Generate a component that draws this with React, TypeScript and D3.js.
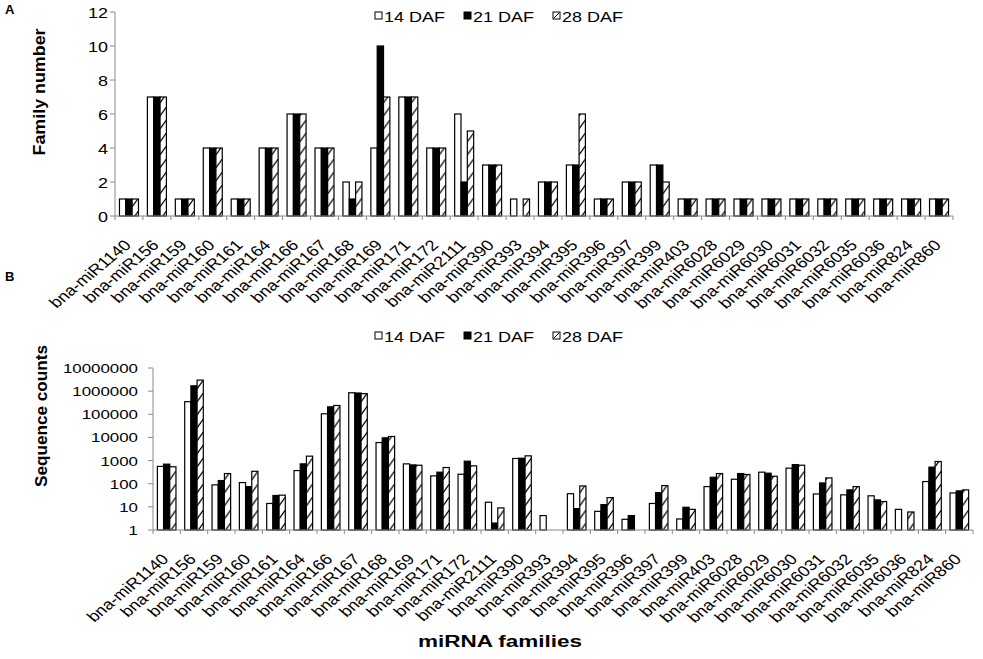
import * as d3 from "d3";

// miRNA families, same order in both panels
const families = [
  "bna-miR1140", "bna-miR156", "bna-miR159", "bna-miR160", "bna-miR161", "bna-miR164",
  "bna-miR166", "bna-miR167", "bna-miR168", "bna-miR169", "bna-miR171", "bna-miR172",
  "bna-miR2111", "bna-miR390", "bna-miR393", "bna-miR394", "bna-miR395", "bna-miR396",
  "bna-miR397", "bna-miR399", "bna-miR403", "bna-miR6028", "bna-miR6029", "bna-miR6030",
  "bna-miR6031", "bna-miR6032", "bna-miR6035", "bna-miR6036", "bna-miR824", "bna-miR860",
];
const stages = ["14 DAF", "21 DAF", "28 DAF"];

// panel A: family number
const fam14 = [1, 7, 1, 4, 1, 4, 6, 4, 2, 4, 7, 4, 6, 3, 1, 2, 3, 1, 2, 3, 1, 1, 1, 1, 1, 1, 1, 1, 1, 1];
const fam21 = [1, 7, 1, 4, 1, 4, 6, 4, 1, 10, 7, 4, 2, 3, 0, 2, 3, 1, 2, 3, 1, 1, 1, 1, 1, 1, 1, 1, 1, 1];
const fam28 = [1, 7, 1, 4, 1, 4, 6, 4, 2, 7, 7, 4, 5, 3, 1, 2, 6, 1, 2, 2, 1, 1, 1, 1, 1, 1, 1, 1, 1, 1];
const famTicks = [0, 2, 4, 6, 8, 10, 12];

// panel B: sequence counts (null = no reads)
const seq14 = [560, 350000, 89, 112, 14, 370, 105000, 850000, 6000, 720, 218, 257, 15.8, 1230, 4.2, 37, 6.4, 2.9, 14, 3, 75, 156, 315, 470, 36, 33, 30, 7.8, 124, 40];
const seq21 = [700, 1700000, 137, 75, 31, 720, 210000, 830000, 9600, 650, 315, 940, 2, 1260, null, 8.4, 12.5, 4.2, 41, 9.6, 190, 275, 285, 670, 108, 54, 20, null, 520, 49];
const seq28 = [540, 3000000, 275, 345, 32, 1550, 240000, 780000, 11000, 630, 500, 590, 9, 1600, null, 80, 25, null, 83, 7.8, 275, 250, 210, 630, 178, 75, 17, 6, 910, 54];
const seqTicks = [1, 10, 100, 1000, 10000, 100000, 1000000, 10000000];

const FONT = "'Liberation Sans', Arial, Helvetica, sans-serif";
const SX = 1.2; // the figure is a bit stretched sideways
const AXIS = "#8a8a8a";

type Row = (number | null)[];

// grouped bars + category axis for one panel
function Panel({ rows, y, x0, x1, baseY, pid }: {
  rows: Row[];
  y: (v: number) => number;
  x0: number;
  x1: number;
  baseY: number;
  pid: string;
}) {
  const x = d3.scaleBand().domain(families).range([x0, x1]).paddingInner(0.32).paddingOuter(0.16);
  const sub = d3.scaleBand().domain(stages).range([0, x.bandwidth()]);
  const bw = sub.bandwidth();
  const step = x.step();
  const edge = (step - x.bandwidth()) / 2;
  const hx = (x(families[0]) ?? 0) + (sub(stages[2]) ?? 0);
  return (
    <g>
      <defs>
        <pattern id={pid} patternUnits="userSpaceOnUse" x={hx} y={0} width={step} height={13}>
          <rect x={0} y={0} width={step} height={13} fill="#fff" />
          <path d={`M0,12 L${bw},3`} stroke="#000" strokeWidth={1.3} fill="none" />
        </pattern>
      </defs>
      {families.map((f, i) => (
        <g key={f}>
          {rows.map((r, k) => {
            const v = r[i];
            if (v == null || v <= 0) return null;
            const bx = (x(f) ?? 0) + (sub(stages[k]) ?? 0);
            const top = y(v);
            return (
              <rect key={k} x={bx} y={top} width={bw} height={baseY - top}
                fill={k === 0 ? "#fff" : k === 1 ? "#000" : `url(#${pid})`}
                stroke="#000" strokeWidth={1.2} />
            );
          })}
        </g>
      ))}
      <line x1={x0} x2={x1} y1={baseY} y2={baseY} stroke={AXIS} strokeWidth={1} />
      {families.map((f) => (
        <line key={f} x1={(x(f) ?? 0) - edge} x2={(x(f) ?? 0) - edge} y1={baseY} y2={baseY + 4} stroke={AXIS} />
      ))}
      <line x1={x1} x2={x1} y1={baseY} y2={baseY + 4} stroke={AXIS} />
      {families.map((f) => {
        const cx = (x(f) ?? 0) + x.bandwidth() / 2;
        return (
          <text key={f} transform={`translate(${cx + 3},${baseY + 30}) scale(${SX},1) rotate(-45)`}
            textAnchor="end" fontSize={15} fontFamily={FONT} fill="#000">{f}</text>
        );
      })}
    </g>
  );
}

export default function App() {
  const yA = d3.scaleLinear().domain([0, 12]).range([216, 12]);
  const yB = d3.scaleLog().domain([1, 1e7]).range([530, 368]);
  const rowsA: Row[] = [fam14, fam21, fam28];
  const rowsB: Row[] = [seq14, seq21, seq28];

  const legend = (lx: number, ly: number) => (
    <g>
      {stages.map((s, k) => {
        const gx = lx + k * 89;
        return (
          <g key={s}>
            <rect x={gx} y={ly - 10} width={7} height={7} fill={k === 1 ? "#000" : "#fff"} stroke="#000" strokeWidth={1} />
            {k === 2 && <path d={`M${gx + 1},${ly - 4} L${gx + 6},${ly - 9}`} stroke="#000" strokeWidth={1} />}
            <text transform={`translate(${gx + 9},${ly}) scale(${SX},1)`} fontSize={15} fontFamily={FONT}>{s}</text>
          </g>
        );
      })}
    </g>
  );

  return (
    <svg width={983} height={659} style={{ position: "absolute", left: 0, top: 0, background: "#fff" }}>
      {/* panel A */}
      <text x={5} y={14} fontSize={13} fontWeight="bold" fontFamily={FONT}>A</text>
      {legend(375, 22)}
      <line x1={115} x2={115} y1={12} y2={216} stroke={AXIS} />
      {famTicks.map((t) => (
        <g key={t}>
          <line x1={110} x2={115} y1={yA(t)} y2={yA(t)} stroke={AXIS} />
          <text transform={`translate(108,${yA(t) + 5.5}) scale(${SX},1)`} textAnchor="end" fontSize={15} fontFamily={FONT}>{t}</text>
        </g>
      ))}
      <text transform="translate(45,92) rotate(-90)" textAnchor="middle" fontSize={16} fontWeight="bold"
        fontFamily={FONT} textLength={127} lengthAdjust="spacingAndGlyphs">Family number</text>
      <Panel rows={rowsA} y={yA} x0={115} x1={953} baseY={216} pid="hatchA" />

      {/* panel B */}
      <text x={5} y={281} fontSize={13} fontWeight="bold" fontFamily={FONT}>B</text>
      {legend(375, 342)}
      <line x1={153} x2={153} y1={368} y2={530} stroke={AXIS} />
      {seqTicks.map((t) => (
        <g key={t}>
          <line x1={148} x2={153} y1={yB(t)} y2={yB(t)} stroke={AXIS} />
          <text transform={`translate(138,${yB(t) + 5}) scale(1.25,1)`} textAnchor="end" fontSize={13.5} fontFamily={FONT}>{t}</text>
        </g>
      ))}
      <text transform="translate(47,416) rotate(-90)" textAnchor="middle" fontSize={16} fontWeight="bold"
        fontFamily={FONT} textLength={142} lengthAdjust="spacingAndGlyphs">Sequence counts</text>
      <Panel rows={rowsB} y={yB} x0={153} x1={973} baseY={530} pid="hatchB" />
      <text x={500} y={647} textAnchor="middle" fontSize={16} fontWeight="bold" fontFamily={FONT}
        textLength={164} lengthAdjust="spacingAndGlyphs">miRNA families</text>
    </svg>
  );
}
